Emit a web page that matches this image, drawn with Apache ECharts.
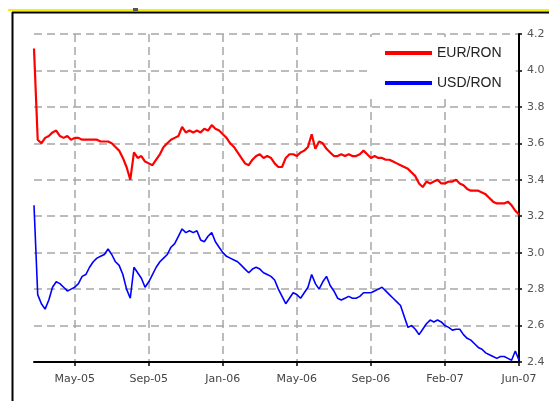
<!DOCTYPE html>
<html>
<head>
<meta charset="utf-8">
<script src="https://cdn.jsdelivr.net/npm/echarts@6/dist/echarts.min.js"></script>
<style>
html,body{margin:0;padding:0;background:#fff;}
#chart{width:549px;height:401px;}
</style>
</head>
<body>
<div id="chart"></div>
<script>
// ---- data ----
const seriesNames = ['EUR/RON', 'USD/RON'];
const tickLabels = ['May-05', 'Sep-05', 'Jan-06', 'May-06', 'Sep-06', 'Feb-07', 'Jun-07'];
const firstTickIndex = 11;
const pointsPerTick = 20;
const yTicks = [2.4, 2.6, 2.8, 3.0, 3.2, 3.4, 3.6, 3.8, 4.0, 4.2];

const eurRon = [
  4.12, 3.62, 3.60, 3.63, 3.64, 3.66, 3.67, 3.64, 3.63, 3.64, 3.62,
  3.63, 3.63, 3.62, 3.62, 3.62, 3.62, 3.62, 3.61, 3.61, 3.61,
  3.60, 3.58, 3.56, 3.52, 3.47, 3.40, 3.55, 3.52, 3.53, 3.50,
  3.49, 3.48, 3.51, 3.54, 3.58, 3.60, 3.62, 3.63, 3.64, 3.69,
  3.66, 3.67, 3.66, 3.67, 3.66, 3.68, 3.67, 3.70, 3.68, 3.67,
  3.65, 3.63, 3.60, 3.58, 3.55, 3.52, 3.49, 3.48, 3.51, 3.53,
  3.54, 3.52, 3.53, 3.52, 3.49, 3.47, 3.47, 3.52, 3.54, 3.54,
  3.53, 3.55, 3.56, 3.58, 3.65, 3.57, 3.61, 3.60, 3.57, 3.55,
  3.53, 3.53, 3.54, 3.53, 3.54, 3.53, 3.53, 3.54, 3.56, 3.54,
  3.52, 3.53, 3.52, 3.52, 3.51, 3.51, 3.50, 3.49, 3.48, 3.47,
  3.46, 3.44, 3.42, 3.38, 3.36, 3.39, 3.38, 3.39, 3.40, 3.38,
  3.38, 3.39, 3.39, 3.40, 3.38, 3.37, 3.35, 3.34, 3.34, 3.34,
  3.33, 3.32, 3.30, 3.28, 3.27, 3.27, 3.27, 3.28, 3.26, 3.23, 3.21
];

const usdRon = [
  3.26, 2.77, 2.72, 2.69, 2.74, 2.81, 2.84, 2.83, 2.81, 2.79, 2.80,
  2.81, 2.83, 2.87, 2.88, 2.92, 2.95, 2.97, 2.98, 2.99, 3.02,
  2.99, 2.95, 2.93, 2.88, 2.80, 2.75, 2.92, 2.89, 2.86, 2.81,
  2.84, 2.88, 2.92, 2.95, 2.97, 2.99, 3.03, 3.05, 3.09, 3.13,
  3.11, 3.12, 3.11, 3.12, 3.07, 3.06, 3.09, 3.11, 3.06, 3.03,
  3.00, 2.98, 2.97, 2.96, 2.95, 2.93, 2.91, 2.89, 2.91, 2.92,
  2.91, 2.89, 2.88, 2.87, 2.85, 2.80, 2.76, 2.72, 2.75, 2.78,
  2.77, 2.75, 2.78, 2.81, 2.88, 2.83, 2.80, 2.84, 2.87, 2.82,
  2.79, 2.75, 2.74, 2.75, 2.76, 2.75, 2.75, 2.76, 2.78, 2.78,
  2.78, 2.79, 2.80, 2.81, 2.79, 2.77, 2.75, 2.73, 2.71, 2.65,
  2.59, 2.60, 2.58, 2.55, 2.58, 2.61, 2.63, 2.62, 2.63, 2.62,
  2.60, 2.59, 2.575, 2.58, 2.58, 2.55, 2.53, 2.52, 2.50, 2.48,
  2.47, 2.45, 2.44, 2.43, 2.42, 2.43, 2.43, 2.42, 2.41, 2.46, 2.41
];

// ---- build categories ----
const categories = eurRon.map((_, i) => 'p' + i);
function tickLabelAt(i) {
  const k = (i - firstTickIndex) / pointsPerTick;
  return (i >= firstTickIndex && Number.isInteger(k) && k < tickLabels.length) ? tickLabels[k] : '';
}
const isTick = (i) => tickLabelAt(i) !== '';

const chart = echarts.init(document.getElementById('chart'), null, {renderer: 'canvas'});
const gridStyle = {color: '#a6a6a6', width: 1.5, type: [8, 5]};

chart.setOption({
  animation: false,
  backgroundColor: '#fff',
  grid: {left: 34, right: 30, top: 34, bottom: 39, containLabel: false},
  legend: {
    data: seriesNames,
    orient: 'vertical',
    left: 368, top: 37,
    backgroundColor: '#fff',
    padding: [9, 14, 4, 17],
    itemWidth: 47, itemHeight: 4, itemGap: 16,
    icon: 'rect',
    textStyle: {fontFamily: 'Liberation Sans', fontSize: 14, color: '#222', lineHeight: 14}
  },
  xAxis: {
    type: 'category',
    data: categories,
    boundaryGap: false,
    axisLine: {lineStyle: {color: '#000', width: 2}},
    axisTick: {show: true, interval: (i) => isTick(i), length: 4, lineStyle: {color: '#000', width: 1.5}},
    axisLabel: {
      interval: (i) => isTick(i),
      formatter: (v, i) => tickLabelAt(i),
      margin: 12,
      fontFamily: 'DejaVu Sans', fontSize: 11, color: '#444'
    },
    splitLine: {show: true, interval: (i) => isTick(i), lineStyle: gridStyle}
  },
  yAxis: {
    type: 'value',
    position: 'right',
    min: yTicks[0], max: yTicks[yTicks.length - 1], interval: 0.2,
    axisLine: {show: true, lineStyle: {color: '#000', width: 2}},
    axisTick: {show: true, length: 3, lineStyle: {color: '#000', width: 1.5}},
    axisLabel: {
      formatter: (v) => v.toFixed(1),
      margin: 8,
      fontFamily: 'DejaVu Sans', fontSize: 11, color: '#555'
    },
    splitLine: {show: true, lineStyle: gridStyle}
  },
  series: [
    {name: seriesNames[0], type: 'line', data: eurRon, showSymbol: false, symbol: 'none',
     lineStyle: {color: '#ff0000', width: 2.2}, itemStyle: {color: '#ff0000'}, z: 3},
    {name: seriesNames[1], type: 'line', data: usdRon, showSymbol: false, symbol: 'none',
     lineStyle: {color: '#0000ff', width: 1.6}, itemStyle: {color: '#0000ff'}, z: 3}
  ],
  graphic: [
    {type: 'line', shape: {x1: 8, y1: 10, x2: 549, y2: 10}, style: {stroke: '#f2f200', lineWidth: 2}},
    {type: 'line', shape: {x1: 12, y1: 12.5, x2: 549, y2: 12.5}, style: {stroke: '#000', lineWidth: 2}},
    {type: 'line', shape: {x1: 12.5, y1: 12, x2: 12.5, y2: 401}, style: {stroke: '#000', lineWidth: 2}},
    {type: 'rect', shape: {x: 133, y: 8, width: 5, height: 3}, style: {fill: '#555'}}
  ]
});
</script>
</body>
</html>
